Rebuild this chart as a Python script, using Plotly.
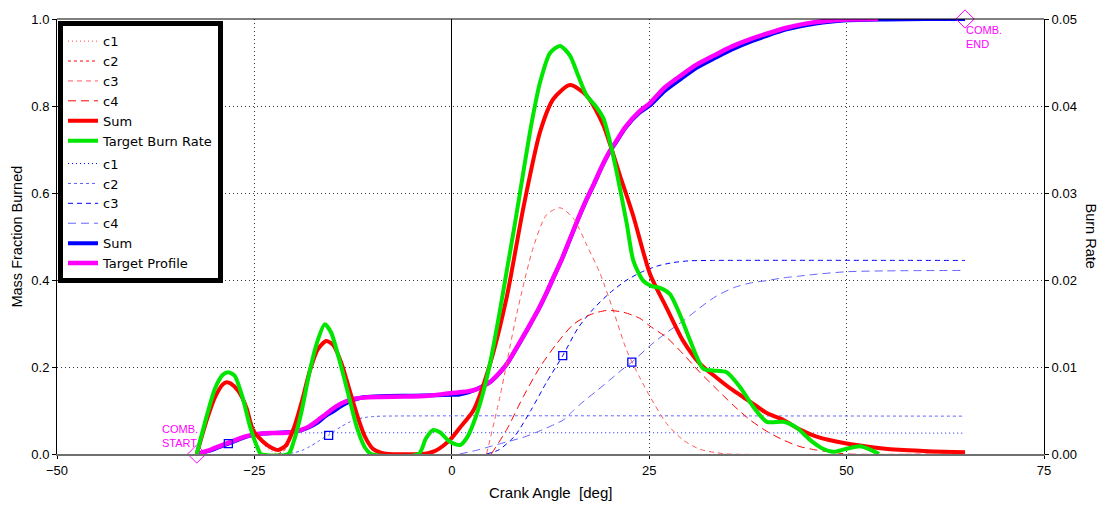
import plotly.graph_objects as go

# ---------------- Burn rate (right axis) ----------------
red_c1_x = [-32.3, -31, -30, -29, -28.5, -28, -27, -26, -25, -24, -23, -22, 65]
red_c1_y = [0, 0.004, 0.0065, 0.008, 0.00825, 0.0081, 0.0072, 0.0052, 0.003, 0.0013, 0.0004, 0, 0]

red_c2_x = [-22, -21, -20, -19, -18, -17, -15.9, -15, -14, -13, -12, -11, -10, -9, 65]
red_c2_y = [0, 0.0006, 0.0028, 0.006, 0.0095, 0.012, 0.013, 0.0125, 0.0105, 0.0075, 0.0045, 0.002, 0.0006, 0, 0]

red_c3_x = [4.4, 6.1, 8.2, 10.3, 12, 13.7, 15.4, 17.1, 18.8, 20.45, 22.15, 23.8, 25.1, 27.2, 29.3, 31.4, 33.5, 35, 65]
red_c3_y = [0, 0.0066, 0.016, 0.0237, 0.0275, 0.0283, 0.0271, 0.024, 0.0207, 0.0165, 0.0119, 0.0088,
            0.0066, 0.0035, 0.0016, 0.00055, 0.00015, 0, 0]

red_c4_x = [5, 6.95, 9.06, 11.17, 13.3, 15.4, 17.5, 19.6, 21.7, 23.8, 25.1, 27.2, 29.3, 31.4, 33.5,
            35.65, 37.8, 39.9, 42, 44.1, 46.2, 48.3, 50, 65]
red_c4_y = [0, 0.0028, 0.0066, 0.01, 0.0127, 0.0149, 0.016, 0.0165, 0.0163, 0.0156, 0.0147, 0.0134,
            0.0115, 0.0094, 0.0075, 0.0056, 0.0039, 0.0026, 0.0016, 0.00085, 0.00045, 0.0002, 0, 0]

red_sum_x = [-32.3, -31, -30, -29, -28.5, -28, -27, -26, -25.2, -24, -23, -22, -21, -20, -19, -18, -17,
             -15.9, -15, -14, -13, -12, -11, -10, -9, -8, -4, -3, -2, -1, 0, 1, 2.73, 4.84, 6.95, 9.06,
             11.17, 12.86, 14.97, 17.08, 19.19, 21.3, 23.0, 25.1, 27.2, 29.3, 31.4, 33.5, 35.65, 37.8,
             39.9, 42, 44.1, 46.2, 50, 54, 57.2, 61, 65]
red_sum_y = [0, 0.004, 0.0065, 0.008, 0.00825, 0.0081, 0.0072, 0.0053, 0.0028, 0.0015, 0.0008, 0.00045,
             0.001, 0.003, 0.006, 0.0095, 0.012, 0.013, 0.0125, 0.0105, 0.0075, 0.0045, 0.002, 0.0006,
             0.00015, 0, 0, 0.0001, 0.0004, 0.001, 0.00185, 0.003, 0.005, 0.01035, 0.018, 0.0283, 0.037,
             0.0408, 0.0424, 0.0412, 0.0378, 0.032, 0.0273, 0.0207, 0.0168, 0.013, 0.0104, 0.0088, 0.0073,
             0.006, 0.0047, 0.0039, 0.0028, 0.002, 0.0012, 0.0007, 0.00045, 0.0003, 0.0002]

target_br_x = [-32.3, -31, -30, -29, -28.3, -27.5, -26.5, -25.5, -24.5, -24.2, -20.7, -20, -19, -18, -17,
               -16.1, -15.3, -14, -13, -12, -11, -10.2, -4.2, -3.3, -2.4, -1.5, -0.5, 0.5, 1.1, 2, 2.73,
               3.8, 4.84, 6, 6.95, 8, 9.06, 10.1, 11.17, 12.44, 13.7, 14.97, 16, 17.08, 18.2, 19.19, 20,
               20.88, 22.15, 23.0, 24.25, 25.3, 26.37, 27.6, 28.9, 30.2, 31.85, 33.1, 34.8, 36.5, 38.2,
               39.9, 42.0, 43.7, 45.4, 47, 48.3, 50, 51.7, 53, 54.1]
target_br_y = [0, 0.0045, 0.0075, 0.0091, 0.0094, 0.009, 0.0065, 0.003, 0.0005, 0, 0, 0.0015, 0.005,
               0.0095, 0.013, 0.0149, 0.014, 0.01, 0.0065, 0.003, 0.00075, 0, 0, 0.00175, 0.00275, 0.0025,
               0.0016, 0.0011, 0.00105, 0.002, 0.0035, 0.0065, 0.0104, 0.016, 0.021, 0.0265, 0.0324, 0.038,
               0.0427, 0.0461, 0.0469, 0.0458, 0.0435, 0.0412, 0.04, 0.0386, 0.036, 0.0324, 0.0265, 0.0222,
               0.0199, 0.0193, 0.0191, 0.0184, 0.016, 0.013, 0.0098, 0.0096, 0.0094, 0.0077, 0.0054,
               0.0037, 0.0037, 0.003, 0.0016, 0.0006, 0.00025, 0.0006, 0.0009, 0.0005, 0]

# ---------------- Mass fraction burned (left axis) ----------------
blue_c1_x = [-32.3, -31, -30, -29, -28.3, -27, -26, -25, -24, -23, 65]
blue_c1_y = [0, 0.005, 0.012, 0.02, 0.024, 0.034, 0.041, 0.045, 0.047, 0.048, 0.048]

blue_c2_x = [-22, -20, -19, -18, -17, -16, -15.6, -15, -14, -13, -12, -11, -10, -9, 65]
blue_c2_y = [0, 0.003, 0.008, 0.017, 0.028, 0.04, 0.043, 0.051, 0.063, 0.073, 0.08, 0.084, 0.086, 0.087, 0.087]

blue_c3_x = [4.4, 6, 8, 10, 12, 14.05, 16, 18, 20, 22, 24, 26, 28, 30, 33, 65]
blue_c3_y = [0, 0.01, 0.042, 0.1, 0.165, 0.226, 0.29, 0.335, 0.37, 0.398, 0.418, 0.432, 0.44, 0.444, 0.445, 0.445]

blue_c4_x = [1, 3, 5, 7, 9, 11, 13, 14.1, 15.4, 16.5, 18.4, 20, 21.5, 22.8, 25.1, 27.2, 29.3, 31.4, 33.5,
             35.65, 37.8, 40, 42, 44, 46, 50, 55, 65]
blue_c4_y = [0, 0.008, 0.018, 0.028, 0.038, 0.052, 0.068, 0.078, 0.1, 0.118, 0.146, 0.17, 0.193, 0.211,
             0.249, 0.279, 0.306, 0.336, 0.363, 0.382, 0.393, 0.399, 0.405, 0.409, 0.413, 0.419, 0.421, 0.422]

blue_sum_x = [-32.3, -31, -30, -29, -28.3, -27, -26, -25, -24, -22, -20, -19, -18, -17, -16, -15, -14, -13,
              -12, -11, -9, -5, -2, 0, 1, 2, 3, 4, 5, 6, 7, 8, 9, 10, 11, 12, 13, 14, 15, 16, 17, 18, 19,
              20, 21, 22, 23.8, 25, 27, 29, 31, 33.4, 35.5, 38, 40, 42.4, 45, 47, 50, 55, 60, 65]
blue_sum_y = [0, 0.006, 0.012, 0.019, 0.024, 0.033, 0.04, 0.044, 0.047, 0.049, 0.051, 0.055, 0.062, 0.072,
              0.087, 0.098, 0.11, 0.12, 0.127, 0.131, 0.133, 0.134, 0.135, 0.136, 0.137, 0.141, 0.148, 0.157,
              0.167, 0.185, 0.207, 0.237, 0.268, 0.3, 0.333, 0.37, 0.41, 0.45, 0.495, 0.54, 0.582, 0.62,
              0.66, 0.695, 0.722, 0.75, 0.785, 0.8, 0.835, 0.862, 0.888, 0.911, 0.93, 0.949, 0.962, 0.976,
              0.986, 0.992, 0.997, 0.999, 1.0, 1.0]

target_prof_x = [-32.3, -31, -30, -29, -28, -27, -26, -25, -24, -23, -21, -20, -19, -18, -17, -16, -15, -14,
                 -13, -12, -11, -9, -6, -3, -1, 0, 1, 2, 3, 4, 5, 6, 7, 8, 9, 10, 11, 12, 13, 14, 15, 16,
                 17, 18, 19, 20, 21, 22, 23.8, 25, 27, 29, 31, 33.4, 35.5, 38, 40, 42.4, 45, 47, 50, 54]
target_prof_y = [0, 0.007, 0.014, 0.021, 0.028, 0.035, 0.041, 0.045, 0.047, 0.048, 0.049, 0.051, 0.056,
                 0.064, 0.077, 0.091, 0.105, 0.116, 0.124, 0.128, 0.13, 0.131, 0.132, 0.134, 0.138, 0.14,
                 0.142, 0.144, 0.148, 0.156, 0.168, 0.186, 0.208, 0.238, 0.269, 0.301, 0.334, 0.371, 0.411,
                 0.451, 0.496, 0.541, 0.583, 0.621, 0.661, 0.696, 0.724, 0.752, 0.788, 0.805, 0.843, 0.87,
                 0.895, 0.918, 0.937, 0.955, 0.967, 0.98, 0.99, 0.995, 0.999, 1.0]

# component 50% markers and combustion start / end
mid_x = [-28.3, -15.6, 14.05, 22.8]
mid_y = [0.024, 0.043, 0.226, 0.211]
comb_x = [-32.3, 65.0]
comb_y = [0.0, 1.0]

x_ticks = [-50, -25, 0, 25, 50, 75]

FONT = "Arial, Liberation Sans, Helvetica, sans-serif"
fig = go.Figure()

def add(name, xs, ys, color, dash, width, axis, group):
    fig.add_trace(go.Scatter(
        x=xs, y=ys, yaxis=axis, mode="lines", name=name, legendgroup=group,
        line=dict(color=color, dash=dash, width=width, shape="spline", smoothing=0.7)))

add("c1", red_c1_x, red_c1_y, "rgb(255,70,70)", "1px,3px", 1, "y2", "br")
add("c2", red_c2_x, red_c2_y, "rgb(255,0,0)", "3px,3px", 1, "y2", "br")
add("c3", red_c3_x, red_c3_y, "rgb(255,90,90)", "5px,4px", 1, "y2", "br")
add("c4", red_c4_x, red_c4_y, "rgb(255,0,0)", "8px,5px", 1, "y2", "br")
add("Sum", red_sum_x, red_sum_y, "rgb(255,0,0)", "solid", 4, "y2", "br")
add("Target Burn Rate", target_br_x, target_br_y, "rgb(0,230,0)", "solid", 4, "y2", "br")

add("c1", blue_c1_x, blue_c1_y, "rgb(0,0,255)", "1px,3px", 1, "y", "mfb")
add("c2", blue_c2_x, blue_c2_y, "rgb(90,90,255)", "3px,3px", 1, "y", "mfb")
add("c3", blue_c3_x, blue_c3_y, "rgb(0,0,255)", "5px,4px", 1, "y", "mfb")
add("c4", blue_c4_x, blue_c4_y, "rgb(100,100,255)", "8px,5px", 1, "y", "mfb")
add("Sum", blue_sum_x, blue_sum_y, "rgb(0,0,255)", "solid", 4, "y", "mfb")
add("Target Profile", target_prof_x, target_prof_y, "rgb(255,0,255)", "solid", 4.5, "y", "mfb")

fig.add_trace(go.Scatter(x=mid_x, y=mid_y, mode="markers", showlegend=False,
                         marker=dict(symbol="square-open", size=8, color="rgb(0,0,255)",
                                     line=dict(width=1.3, color="rgb(0,0,255)"))))
fig.add_trace(go.Scatter(x=comb_x, y=comb_y, mode="markers", showlegend=False, cliponaxis=False,
                         marker=dict(symbol="diamond-open", size=14, color="rgb(255,0,255)",
                                     line=dict(width=1, color="rgb(255,0,255)"))))

mag = dict(family=FONT, size=11, color="rgb(255,0,255)")
title_font = dict(family=FONT, size=14.5, color="black")
ann = [
    dict(x=comb_x[0], y=comb_y[0], xref="x", yref="y", text="COMB.<br>START", showarrow=False,
         align="left", xanchor="right", yanchor="bottom", xshift=2, yshift=4, font=mag, borderpad=0),
    dict(x=comb_x[1], y=comb_y[1], xref="x", yref="y", text="COMB.<br>END", showarrow=False,
         align="left", xanchor="left", yanchor="top", xshift=0, yshift=-4, font=mag, borderpad=0),
    dict(x=-0.0415, y=0.5, xref="paper", yref="paper", text="Mass Fraction Burned", showarrow=False,
         textangle=-90, xanchor="center", yanchor="middle", font=title_font),
    dict(x=1.0486, y=0.5, xref="paper", yref="paper", text="Burn Rate", showarrow=False,
         textangle=90, xanchor="center", yanchor="middle", font=title_font),
    dict(x=0.5, y=-0.089, xref="paper", yref="paper", text="Crank Angle\u00a0\u00a0[deg]", showarrow=False,
         xanchor="center", yanchor="middle", font=dict(family=FONT, size=15, color="black")),
]

grid = dict(showgrid=True, gridcolor="#333", gridwidth=1, griddash="1px,3px")
fig.update_layout(
    width=1107, height=508,
    margin=dict(l=57, r=63, t=16, b=54),
    paper_bgcolor="white", plot_bgcolor="white",
    font=dict(family=FONT, size=13, color="black"),
    xaxis=dict(range=[-50, 75], tickvals=x_ticks, ticks="outside", ticklen=3, tickcolor="black",
               showline=True, linecolor="#707070", linewidth=2, zeroline=True, zerolinecolor="black",
               zerolinewidth=1, tickfont=dict(size=13, color="black"), **grid),
    yaxis=dict(range=[0, 1], dtick=0.2, tick0=0, tickformat=".1f", ticks="outside", ticklen=4,
               tickcolor="black", showline=True, linecolor="black", linewidth=1, zeroline=False,
               tickfont=dict(size=13, color="black"), **grid),
    yaxis2=dict(range=[0, 0.05], dtick=0.01, tick0=0, tickformat=".2f", overlaying="y", side="right",
                ticks="outside", ticklen=4, tickcolor="black", showline=True, linecolor="black",
                linewidth=1, showgrid=False, zeroline=False, tickfont=dict(size=13, color="black")),
    legend=dict(x=0.001, y=0.995, xanchor="left", yanchor="top", bgcolor="white", bordercolor="black",
                borderwidth=5, font=dict(family="DejaVu Sans, Arial, sans-serif", size=13, color="black"),
                traceorder="grouped", tracegroupgap=3, itemwidth=30),
    shapes=[dict(type="line", xref="paper", yref="paper", x0=0, x1=1, y0=1, y1=1,
                 line=dict(color="black", width=1))],
    annotations=ann,
    showlegend=True,
)

fig.write_html("out.html", config={"displayModeBar": False},
               post_script="document.body.style.margin='0px';")
